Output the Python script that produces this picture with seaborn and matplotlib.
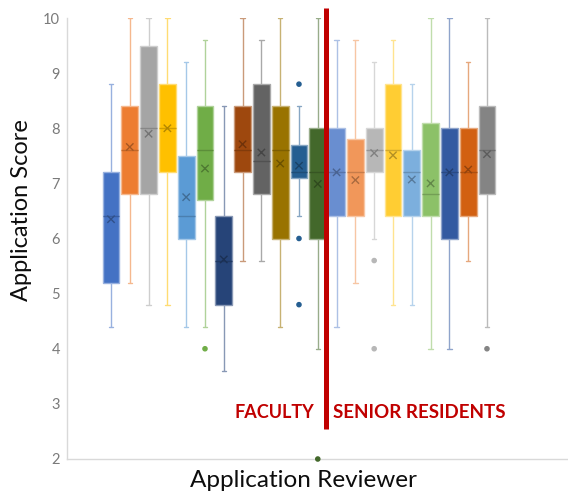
import numpy as np
import pandas as pd
import matplotlib.pyplot as plt
import matplotlib.colors as mcolors
import seaborn as sns

# Reviewers: 12 faculty then 9 senior residents
reviewers = [f"F{i}" for i in range(1, 13)] + [f"R{i}" for i in range(1, 10)]
colors = ['#4472C4', '#ED7D31', '#A5A5A5', '#FFC000', '#5B9BD5', '#70AD47',
          '#264478', '#9E480E', '#636363', '#997300', '#255E91', '#43682B',
          '#698ED0', '#F1975A', '#B7B7B7', '#FFCD33', '#7CAFDD', '#8CC168',
          '#335AA1', '#D26012', '#848484']

# five number summaries
whisker_low = [4.4, 5.2, 4.8, 4.8, 4.4, 4.4, 3.6, 5.6, 5.6, 4.4, 6.4, 4.0,
               4.4, 5.2, 6.0, 4.8, 4.8, 4.0, 4.0, 5.6, 4.4]
q1 = [5.2, 6.8, 6.8, 7.2, 6.0, 6.7, 4.8, 7.2, 6.8, 6.0, 7.1, 6.0,
      6.4, 6.4, 7.2, 6.4, 6.4, 6.4, 6.0, 6.4, 6.8]
median = [6.4, 7.6, 8.0, 8.0, 6.4, 7.6, 5.6, 7.6, 7.4, 7.6, 7.2, 7.2,
          7.2, 7.2, 7.6, 7.6, 7.2, 6.8, 7.2, 7.2, 7.6]
q3 = [7.2, 8.4, 9.5, 8.8, 7.5, 8.4, 6.4, 8.4, 8.8, 8.4, 7.7, 8.0,
      8.0, 7.8, 8.0, 8.8, 7.6, 8.1, 8.0, 8.0, 8.4]
whisker_high = [8.8, 10.0, 10.0, 10.0, 9.2, 9.6, 8.4, 10.0, 9.6, 10.0, 8.4, 10.0,
                9.6, 9.6, 9.2, 9.6, 8.8, 10.0, 10.0, 9.2, 10.0]
means = [6.35, 7.66, 7.9, 8.0, 6.75, 7.27, 5.62, 7.71, 7.56, 7.36, 7.32, 6.99,
         7.2, 7.06, 7.55, 7.51, 7.07, 7.0, 7.2, 7.25, 7.53]

outlier_reviewer = ["F6", "F11", "F11", "F11", "F12", "R3", "R3", "R9"]
outlier_value = [4.0, 8.8, 6.0, 4.8, 2.0, 5.6, 4.0, 4.0]

n_faculty = 12


def shade(c, amount):
    # amount > 0 blends toward white, < 0 toward black
    rgb = np.array(mcolors.to_rgb(c))
    if amount > 0:
        return tuple(rgb + (1 - rgb) * amount)
    return tuple(rgb * (1 + amount))


rows = []
for i, r in enumerate(reviewers):
    for v in (whisker_low[i], q1[i], median[i], q3[i], whisker_high[i]):
        rows.append({"Reviewer": r, "Score": v})
df = pd.DataFrame(rows)

sns.set_style("white")
plt.rcParams['font.family'] = ['Lato', 'DejaVu Sans']

fig = plt.figure(figsize=(5.68, 4.95), dpi=100)
ax = fig.add_axes([67 / 568, 1 - 459 / 495, 501 / 568, 441 / 495])

for i, r in enumerate(reviewers):
    c = colors[i]
    before = len(ax.lines)
    sns.boxplot(data=df[df["Reviewer"] == r], x="Reviewer", y="Score",
                order=reviewers, color=c, saturation=1, width=0.9,
                linecolor=shade(c, 0.45), linewidth=1, whis=(0, 100),
                showfliers=False,
                medianprops=dict(color=shade(c, -0.18), linewidth=1),
                ax=ax)
    # shorten the whisker caps like in the original
    new = ax.lines[before:]
    for cap in new[2:4]:
        cap.set_xdata([i - 0.12, i + 0.12])

ax.scatter(np.arange(len(reviewers)), means, marker='x', s=28, linewidths=1,
           c=[shade(c, -0.3) for c in colors], zorder=5)

out_x = [reviewers.index(r) for r in outlier_reviewer]
ax.scatter(out_x, outlier_value, s=9, c=[colors[i] for i in out_x], zorder=5,
           clip_on=False)

# divider between faculty and residents
split = n_faculty - 0.57
ax.plot([split, split], [2.54, 10.18], color='#C00000', lw=3.6,
        solid_capstyle='butt', clip_on=False, zorder=6)
ax.text(split - 0.63, 2.75, "FACULTY", color='#C00000', fontsize=13,
        fontweight='bold', ha='right', va='baseline')
ax.text(split + 0.38, 2.75, "SENIOR RESIDENTS", color='#C00000', fontsize=13.5,
        fontweight='bold', ha='left', va='baseline')

ax.set_xlim(-2.34, 24.31)
ax.set_ylim(2, 10)
ax.set_yticks(range(2, 11))
ax.set_xticks([])
ax.tick_params(axis='y', length=0, pad=5, labelsize=10.5, labelcolor='#7a7a7a')
for s in ['top', 'right']:
    ax.spines[s].set_visible(False)
for s in ['left', 'bottom']:
    ax.spines[s].set_color('#d9d9d9')
    ax.spines[s].set_linewidth(1)

ax.set_xlabel("Application Reviewer", fontsize=17.5, color='#0d0d0d')
ax.set_ylabel("Application Score", fontsize=17, color='#0d0d0d')
ax.xaxis.set_label_coords(0.471, -0.025)
ax.yaxis.set_label_coords(-0.07, 0.565)

fig.savefig("out.png", dpi=100)
